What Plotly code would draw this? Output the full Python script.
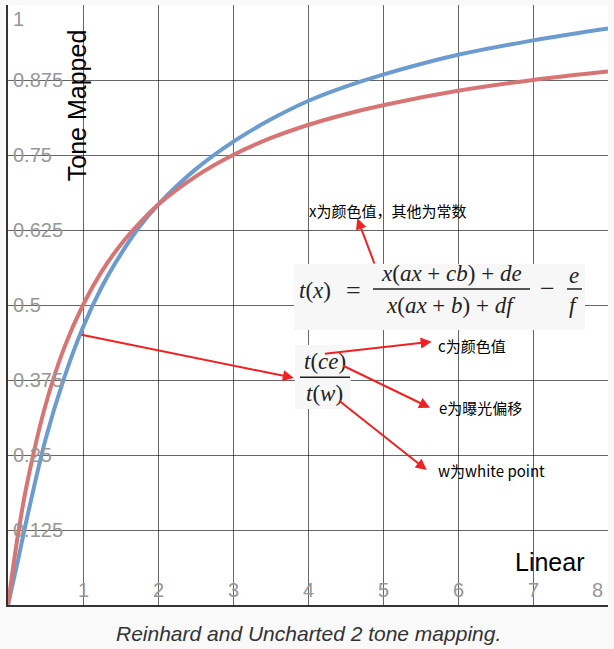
import plotly.graph_objects as go

# ---------------- data ----------------
reinhard_x = [0, 0.125, 0.25, 0.5, 0.75, 1.0, 1.25, 1.5, 1.75, 2.0, 2.5, 3.0, 3.5, 4.0, 4.5, 5.0, 6.0, 7.0, 8.0]
reinhard_y = [0, 0.111, 0.2, 0.333, 0.429, 0.5, 0.556, 0.6, 0.636, 0.667, 0.714, 0.75, 0.778, 0.8, 0.818, 0.833, 0.857, 0.875, 0.889]

uncharted_x = [0, 0.125, 0.25, 0.5, 0.75, 1.0, 1.25, 1.5, 1.75, 2.0, 2.5, 3.0, 3.5, 4.0, 4.5, 5.0, 6.0, 7.0, 8.0]
uncharted_y = [0, 0.07, 0.143, 0.276, 0.379, 0.463, 0.53, 0.584, 0.63, 0.667, 0.726, 0.772, 0.809, 0.84, 0.864, 0.884, 0.917, 0.941, 0.961]

x_tick_vals = [1, 2, 3, 4, 5, 6, 7, 8]
x_tick_text = ["1", "2", "3", "4", "5", "6", "7", "8"]
y_tick_vals = [0.125, 0.25, 0.375, 0.5, 0.625, 0.75, 0.875, 1]
y_tick_text = ["0.125", "0.25", "0.375", "0.5", "0.625", "0.75", "0.875", "1"]

x_title = "Linear"
y_title = "Tone Mapped"
caption = "Reinhard and Uncharted 2 tone mapping."

note_x = "x为颜色值，其他为常数"
note_c = "c为颜色值"
note_e = "e为曝光偏移"
note_w = "w为white point"

# ---------------- styles ----------------
BLUE = "#6b9bcf"
RED = "#d77575"
ARROW = "#ee2222"
TICK_FONT = dict(family="Liberation Sans, Arial", size=20, color="#979797")
CJK_FONT = dict(family="Noto Sans CJK SC", size=15, color="#000000")
MATH_FONT = dict(family="Liberation Serif, Times New Roman", size=23, color="#222222")

fig = go.Figure()
fig.add_trace(go.Scatter(x=uncharted_x, y=uncharted_y, mode="lines",
                         line=dict(color=BLUE, width=4, shape="spline", smoothing=1.0),
                         name="Uncharted 2", hoverinfo="skip"))
fig.add_trace(go.Scatter(x=reinhard_x, y=reinhard_y, mode="lines",
                         line=dict(color=RED, width=4, shape="spline", smoothing=1.0),
                         name="Reinhard", hoverinfo="skip"))

annotations = []

# tick labels drawn inside the plot area
for v, t in zip(x_tick_vals, x_tick_text):
    last = v == x_tick_vals[-1]
    annotations.append(dict(x=v, y=0, xref="x", yref="y", text=t, showarrow=False,
                            xanchor="right" if last else "center", yanchor="middle",
                            xshift=-3 if last else 0, yshift=15, font=TICK_FONT))
for v, t in zip(y_tick_vals, y_tick_text):
    top = v == y_tick_vals[-1]
    annotations.append(dict(x=0, y=v, xref="x", yref="y", text=t, showarrow=False,
                            xanchor="left", yanchor="middle", xshift=3,
                            yshift=-14 if top else 0, font=TICK_FONT))

# axis titles
annotations.append(dict(x=0.92, y=0.833, xref="x", yref="y", text=y_title, showarrow=False,
                        textangle=-90, xanchor="center", yanchor="middle",
                        font=dict(family="Liberation Sans, Arial", size=25, color="#000")))
annotations.append(dict(x=7.227, y=0.072, xref="x", yref="y", text=x_title, showarrow=False,
                        xanchor="center", yanchor="middle",
                        font=dict(family="Liberation Sans, Arial", size=25, color="#000")))

# caption
annotations.append(dict(x=0.5, y=-0.048, xref="paper", yref="paper", text="<i>" + caption + "</i>",
                        showarrow=False, xanchor="center", yanchor="middle",
                        font=dict(family="Liberation Sans, Arial", size=21, color="#333333")))

# formula 1: t(x) = (x(ax+cb)+de)/(x(ax+b)+df) - e/f
math = [
    dict(x=4.093, y=0.525, text="<i>t</i>(<i>x</i>)"),
    dict(x=4.604, y=0.525, text="=", size=26),
    dict(x=5.907, y=0.553, text="<i>x</i>(<i>ax</i> + <i>cb</i>) + <i>de</i>"),
    dict(x=5.907, y=0.500, text="<i>x</i>(<i>ax</i> + <i>b</i>) + <i>df</i>"),
    dict(x=7.193, y=0.527, text="−", size=26),
    dict(x=7.553, y=0.549, text="<i>e</i>"),
    dict(x=7.553, y=0.500, text="<i>f</i>"),
    # formula 2: t(ce)/t(w)
    dict(x=4.227, y=0.4055, text="<i>t</i>(<i>ce</i>)"),
    dict(x=4.220, y=0.3528, text="<i>t</i>(<i>w</i>)"),
]
for a in math:
    size = a.pop("size", MATH_FONT["size"])
    a.update(xref="x", yref="y", showarrow=False, xanchor="center", yanchor="middle",
             font=dict(MATH_FONT, size=size))
annotations += math

# notes
for txt, x, y in [(note_x, 3.983, 0.657), (note_c, 5.707, 0.4333),
                  (note_e, 5.716, 0.3295), (note_w, 5.707, 0.225)]:
    annotations.append(dict(x=x, y=y, xref="x", yref="y", text=txt, showarrow=False,
                            xanchor="left", yanchor="middle", font=CJK_FONT))

# arrows (head at x,y ; tail at ax,ay)
for hx, hy, tx, ty in [(4.657, 0.6445, 4.893, 0.5667),
                       (3.811, 0.3785, 0.960, 0.4510),
                       (5.649, 0.4388, 4.204, 0.4183),
                       (5.627, 0.3288, 4.449, 0.4000),
                       (5.583, 0.2250, 4.404, 0.3417)]:
    annotations.append(dict(x=hx, y=hy, ax=tx, ay=ty, xref="x", yref="y", axref="x", ayref="y",
                            text="", showarrow=True, arrowhead=2, arrowsize=1.1,
                            arrowwidth=2, arrowcolor=ARROW, standoff=0, startstandoff=0))

shapes = [
    dict(type="rect", x0=3.813, x1=7.693, y0=0.4583, y1=0.5683, xref="x", yref="y",
         fillcolor="#f7f7f7", line=dict(width=0), layer="above"),
    dict(type="rect", x0=3.827, x1=4.569, y0=0.3267, y1=0.4333, xref="x", yref="y",
         fillcolor="#f7f7f7", line=dict(width=0), layer="above"),
    dict(type="line", x0=4.867, x1=6.96, y0=0.5267, y1=0.5267, xref="x", yref="y",
         line=dict(color="#222", width=1.5), layer="above"),
    dict(type="line", x0=7.453, x1=7.653, y0=0.5267, y1=0.5267, xref="x", yref="y",
         line=dict(color="#222", width=1.5), layer="above"),
    dict(type="line", x0=3.893, x1=4.56, y0=0.3795, y1=0.3795, xref="x", yref="y",
         line=dict(color="#222", width=1.5), layer="above"),
]

fig.update_layout(
    width=614, height=649,
    margin=dict(l=8, r=6, t=5, b=44, pad=0),
    paper_bgcolor="#f9f9f9", plot_bgcolor="#ffffff",
    showlegend=False,
    annotations=annotations, shapes=shapes,
    xaxis=dict(range=[0, 8], tickvals=x_tick_vals[:-1], showticklabels=False, ticks="",
               showgrid=True, gridcolor="rgba(0,0,0,0.6)", gridwidth=1, zeroline=False,
               showline=True, linecolor="#333333", linewidth=1.5, fixedrange=True),
    yaxis=dict(range=[0, 1], tickvals=y_tick_vals[:-1], showticklabels=False, ticks="",
               showgrid=True, gridcolor="rgba(0,0,0,0.6)", gridwidth=1, zeroline=False,
               showline=True, linecolor="#333333", linewidth=1.5, fixedrange=True),
)

fig.write_html("out.html", config={"displayModeBar": False},
               post_script="document.body.style.margin='0px';document.body.style.background='#f9f9f9';")
